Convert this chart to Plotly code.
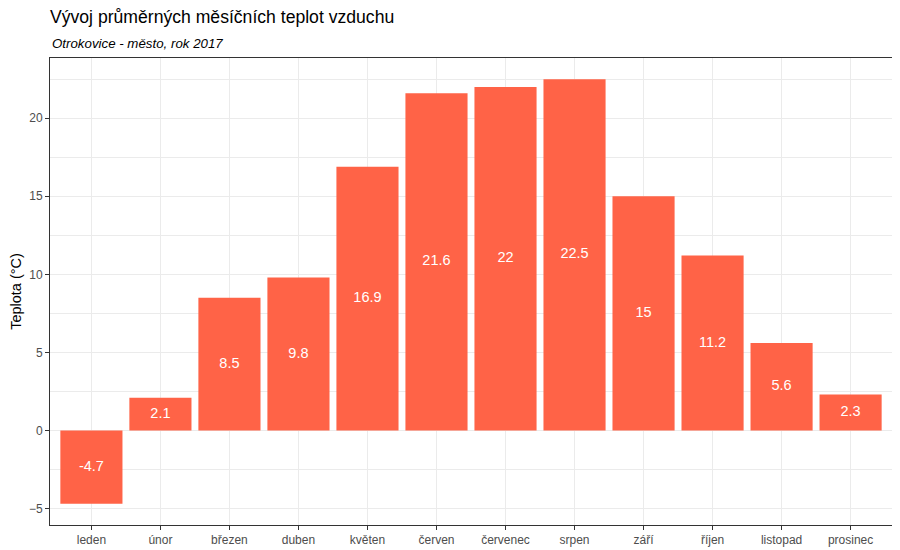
import plotly.graph_objects as go

months = ["leden", "únor", "březen", "duben", "květen", "červen",
          "červenec", "srpen", "září", "říjen", "listopad", "prosinec"]
temps = [-4.7, 2.1, 8.5, 9.8, 16.9, 21.6, 22.0, 22.5, 15.0, 11.2, 5.6, 2.3]

labels = [f"{v:g}" for v in temps]
mid = [v / 2 for v in temps]

FONT = "Liberation Sans, Arial, sans-serif"

fig = go.Figure()
fig.add_trace(go.Bar(x=months, y=temps, width=0.9, marker=dict(color="#FF6347", line=dict(width=0)),
                     hoverinfo="x+y"))
fig.add_trace(go.Scatter(x=months, y=mid, mode="text", text=labels,
                         textfont=dict(color="white", size=14.5, family=FONT),
                         hoverinfo="skip"))

lo, hi = min(temps), max(temps)
pad = (hi - lo) * 0.05

W, H = 892, 542
PH = H - 50 - 25
fig.update_layout(
    width=W, height=H,
    paper_bgcolor="white", plot_bgcolor="white",
    margin=dict(l=42, r=8, t=50, b=25, autoexpand=False),
    showlegend=False,
    bargap=0.1,
    font=dict(family=FONT, color="#000000"),
    title=dict(text="Vývoj průměrných měsíčních teplot vzduchu",
               x=42 / W, xanchor="left", y=1 - 9 / H, yanchor="middle",
               font=dict(size=17.6, color="black", family=FONT)),
    annotations=[dict(text="<i>Otrokovice - město, rok 2017</i>", xref="paper", yref="paper",
                      x=0, y=1 + 5 / PH, xanchor="left", yanchor="bottom", showarrow=False,
                      font=dict(size=13.3, color="black", family=FONT))],
)
fig.update_xaxes(
    range=[-0.6, 11.6], showgrid=True, gridcolor="#EBEBEB", gridwidth=1, automargin=False,
    showline=True, linecolor="#333333", linewidth=1, mirror=True,
    ticks="outside", ticklen=4, tickcolor="#333333", tickwidth=1,
    tickfont=dict(size=12, color="#4D4D4D", family=FONT), zeroline=False,
)
fig.update_yaxes(
    range=[lo - pad, hi + pad], showgrid=True, gridcolor="#EBEBEB", gridwidth=1, automargin=False,
    tickvals=[-5, 0, 5, 10, 15, 20],
    minor=dict(tickvals=[-2.5, 2.5, 7.5, 12.5, 17.5, 22.5], showgrid=True, gridcolor="#EBEBEB", gridwidth=0.6),
    showline=True, linecolor="#333333", linewidth=1, mirror=True,
    ticks="outside", ticklen=4, tickcolor="#333333", tickwidth=1,
    tickfont=dict(size=12, color="#4D4D4D", family=FONT), zeroline=False,
    title=dict(text="Teplota (°C)", font=dict(size=14.5, color="black", family=FONT), standoff=3),
)

fig.write_html("out.html")
